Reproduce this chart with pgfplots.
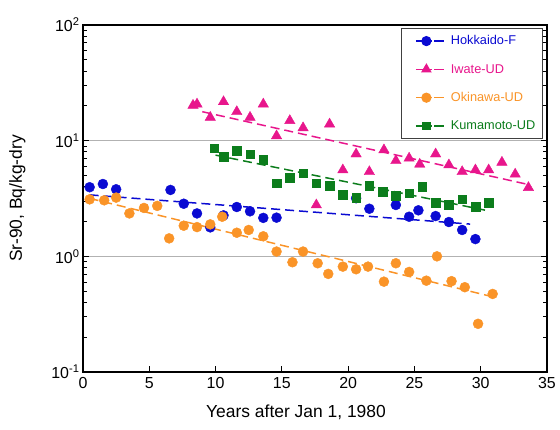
\documentclass[border=0pt]{standalone}
\usepackage{fontspec}
\setmainfont{Liberation Sans}
\usepackage{pgfplots}
\pgfplotsset{compat=1.18}

\definecolor{hokk}{RGB}{10,10,210}
\definecolor{iwat}{RGB}{232,22,140}
\definecolor{okin}{RGB}{250,148,40}
\definecolor{kuma}{RGB}{12,125,28}

% Sr-90 activity, Bq/kg-dry, against years after Jan 1, 1980
\pgfplotstableread{
x y
0.5 3.96
1.5 4.22
2.5 3.80
6.6 3.75
7.6 2.85
8.6 2.35
9.6 1.78
10.6 2.26
11.6 2.67
12.6 2.45
13.6 2.15
14.6 2.16
20.6 3.18
21.6 2.58
23.6 2.78
24.6 2.20
25.3 2.50
26.6 2.23
27.6 1.98
28.6 1.69
29.6 1.41
}\hokkaido
\pgfplotstableread{
x y
8.3 20.2
8.6 20.7
9.6 15.9
10.6 21.7
11.6 17.8
12.6 15.9
13.6 20.7
14.6 11.0
15.6 14.9
16.6 12.9
17.6 2.78
18.6 13.9
19.6 5.58
20.6 7.67
21.6 5.39
22.7 8.32
23.6 6.71
24.6 7.05
25.4 6.25
26.6 7.67
27.6 6.17
28.6 5.39
29.6 5.58
30.6 5.58
31.6 6.50
32.6 5.13
33.6 3.93
}\iwate
\pgfplotstableread{
x y
0.5 3.11
1.6 3.05
2.5 3.22
3.5 2.35
4.6 2.62
5.6 2.73
6.5 1.43
7.6 1.84
8.6 1.79
9.6 1.89
10.5 2.20
11.6 1.60
12.5 1.69
13.6 1.49
14.6 1.10
15.8 0.889
16.6 1.10
17.7 0.871
18.5 0.705
19.6 0.815
20.6 0.773
21.5 0.815
22.7 0.604
23.6 0.871
24.6 0.733
25.9 0.616
26.7 1.00
27.8 0.610
28.8 0.541
29.8 0.261
30.9 0.473
}\okinawa
\pgfplotstableread{
x y
9.9 8.59
10.6 7.28
11.6 8.20
12.6 7.67
13.6 6.81
14.6 4.28
15.6 4.79
16.6 5.22
17.6 4.28
18.6 4.08
19.6 3.40
20.6 3.20
21.6 4.08
22.6 3.62
23.6 3.33
24.6 3.51
25.6 4.00
26.6 2.91
27.6 2.80
28.6 3.12
29.6 2.69
30.6 2.91
}\kumamoto

\begin{document}
\begin{tikzpicture}
\useasboundingbox (-83bp,-58bp) rectangle (477bp,372bp);
\begin{axis}[
  scale only axis,
  width=464bp, height=347bp,
  ymode=log,
  xmin=0, xmax=35, ymin=0.1, ymax=100,
  xtick={0,5,...,35},
  ytick={0.1,1,10,100},
  yticklabels={10\textsuperscript{-1},10\textsuperscript{0},10\textsuperscript{1},10\textsuperscript{2}},
  /pgf/number format/assume math mode=true,
  tick label style={font=\fontsize{16}{18}\selectfont},
  xticklabel style={yshift=-2bp},
  xtick pos=bottom, ytick pos=both,
  tick align=inside,
  major tick length=6bp, minor tick length=4bp,
  every tick/.style={black, line width=0.9pt},
  axis line style={line width=1.1pt},
  ymajorgrids, major grid style={gray!60, line width=1.3pt},
  xlabel={Years after Jan 1, 1980},
  ylabel={Sr-90, Bq/kg-dry},
  label style={font=\fontsize{17.5}{20}\selectfont},
  xlabel style={yshift=-9bp, xshift=-19bp},
  ylabel style={yshift=19bp},
  legend style={at={(0.991,0.991)}, anchor=north east,
    draw=black!75, line width=1.2pt,
    font=\fontsize{12.8}{15}\selectfont,
    row sep=15.8bp, inner xsep=6bp, inner ysep=6bp,
    nodes={inner sep=1bp}},
  legend cell align=left,
  legend image code/.code={
    \path[draw=none,fill=none] (-8bp,-1bp) rectangle (34bp,1bp);
    \draw[#1,solid,line width=1.4pt] (0bp,0bp) -- (16bp,0bp);
    \draw[#1,solid,line width=1.4pt] (18.5bp,0bp) -- (28bp,0bp);
    \draw[#1,solid] plot coordinates {(10.5bp,0bp)};
  },
  trend/.style={line width=1.5pt, dash pattern=on 9bp off 5bp, forget plot},
  clip=false,
]
% fitted trends
\addplot[trend, hokk] coordinates {(0.5,3.40) (29.2,1.90)};
\addplot[trend, iwat] coordinates {(9.0,17.8) (33.5,4.2)};
\addplot[trend, okin] coordinates {(0.5,3.17) (30.8,0.45)};
\addplot[trend, kuma] coordinates {(10.0,7.5) (30.6,2.47)};

% measured values
\addplot[only marks, forget plot, mark=*, mark size=5bp, color=hokk] table {\hokkaido};
\addplot[only marks, forget plot, mark=triangle*, mark size=6bp, color=iwat] table {\iwate};
\addplot[only marks, forget plot, mark=*, mark size=5bp, color=okin] table {\okinawa};
\addplot[only marks, forget plot, mark=square*, mark size=4.3bp, color=kuma] table {\kumamoto};

\addlegendimage{hokk, mark=*, mark size=4.5bp}
\addlegendentry{\textcolor{hokk}{Hokkaido-F}}
\addlegendimage{iwat, mark=triangle*, mark size=5bp}
\addlegendentry{\textcolor{iwat}{Iwate-UD}}
\addlegendimage{okin, mark=*, mark size=4.5bp}
\addlegendentry{\textcolor{okin}{Okinawa-UD}}
\addlegendimage{kuma, mark=square*, mark size=3.8bp}
\addlegendentry{\textcolor{kuma}{Kumamoto-UD}}
\end{axis}
\end{tikzpicture}
\end{document}
